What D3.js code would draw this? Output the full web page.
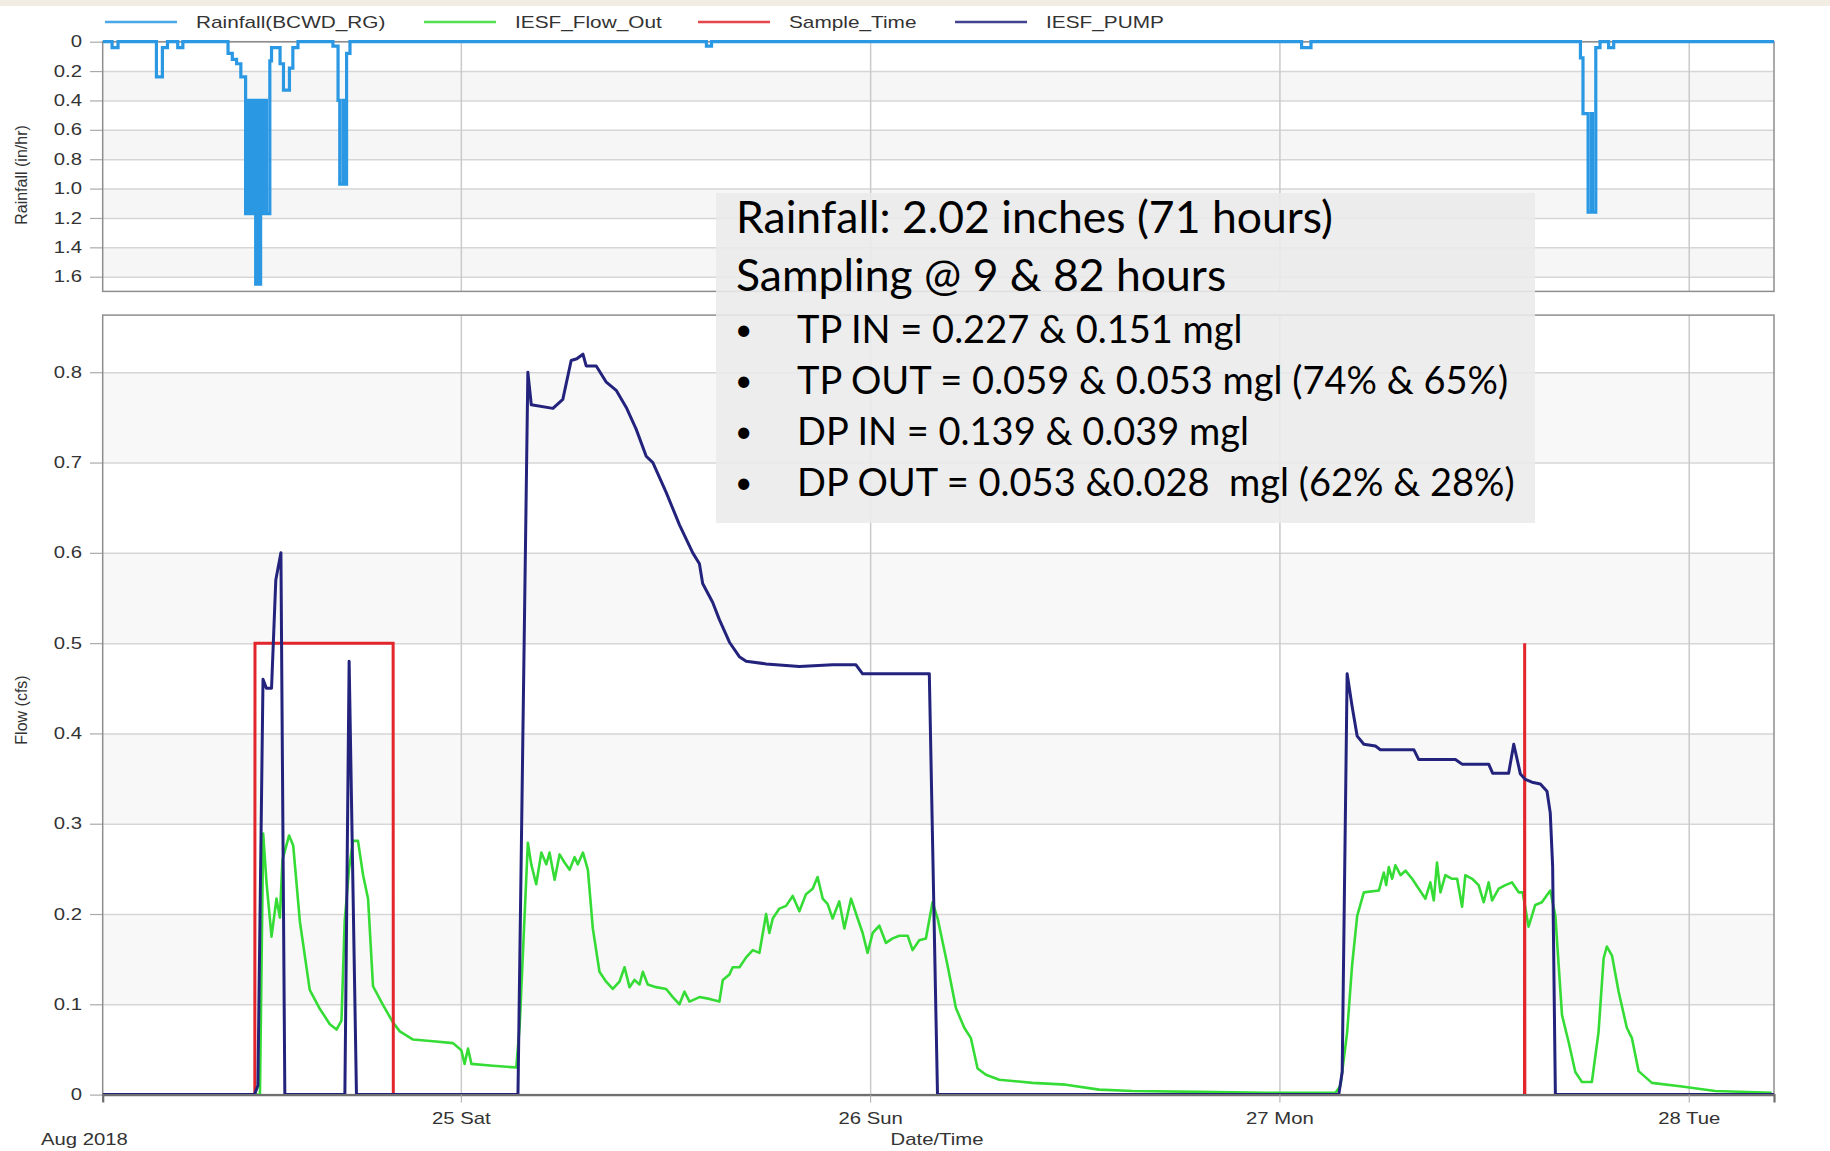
<!DOCTYPE html>
<html>
<head>
<meta charset="utf-8">
<script src="https://cdn.jsdelivr.net/npm/d3@7"></script>
<style>
  html, body { margin: 0; padding: 0; background: #ffffff; }
  svg { display: block; }
  .lbl { font-family: "Liberation Sans", Arial, sans-serif; font-size: 16px; fill: #333; }
  .note { font-family: Lato, "Open Sans", sans-serif; fill: #000; white-space: pre; }
  .head { font-size: 44.5px; }
  .item { font-size: 38px; }
  .dot { font-size: 30px; }
</style>
</head>
<body>
<svg id="chart" width="1830" height="1151"></svg>
<script>
// hours counted from 2018-08-24 00:00
var START_HOUR = 3, END_HOUR = 101;

var legendNames = ["Rainfall(BCWD_RG)", "IESF_Flow_Out", "Sample_Time", "IESF_PUMP"];
var rainTicks = [0, 0.2, 0.4, 0.6, 0.8, 1.0, 1.2, 1.4, 1.6];
var flowTicks = [0, 0.1, 0.2, 0.3, 0.4, 0.5, 0.6, 0.7, 0.8];

// rainfall intensity, in/hr (step values)
var rainData = [
  [3, 0], [3.55, 0.04], [3.9, 0],
  [6.15, 0.24], [6.5, 0.04], [6.8, 0],
  [7.4, 0.04], [7.7, 0],
  [10.35, 0.08], [10.6, 0.12], [10.85, 0.15], [11.1, 0.24],
  [11.38, 1.17], [11.55, 0.4], [11.6, 1.17], [11.75, 0.4], [11.8, 1.17],
  [11.92, 0.4], [11.97, 1.65], [12.1, 0.4], [12.13, 1.65], [12.26, 0.4],
  [12.39, 1.17], [12.55, 0.4], [12.6, 1.17], [12.8, 0.13],
  [12.9, 0.04], [13.4, 0.15], [13.6, 0.33], [13.95, 0.18], [14.15, 0.04], [14.45, 0],
  [16.5, 0.03], [16.8, 0.4], [16.9, 0.97], [17.1, 0.4], [17.15, 0.97], [17.3, 0.08], [17.5, 0],
  [38.4, 0.03], [38.7, 0],
  [73.3, 0.04], [73.85, 0],
  [89.65, 0.11], [89.8, 0.49], [90.1, 1.16], [90.3, 0.49], [90.35, 1.16], [90.55, 0.04], [90.8, 0],
  [91.3, 0.04], [91.6, 0],
  [101, 0]
];

// IESF_Flow_Out, cfs
var flowData = [
  [12.0, 0], [12.22, 0], [12.41, 0.289], [12.61, 0.234], [12.9, 0.175], [13.19, 0.217], [13.39, 0.196],
  [13.54, 0.26], [13.93, 0.287], [14.17, 0.276], [14.56, 0.192], [15.14, 0.116], [15.73, 0.095],
  [16.32, 0.078], [16.71, 0.072], [17.0, 0.082], [17.19, 0.192], [17.45, 0.251], [17.68, 0.281],
  [17.97, 0.281], [18.27, 0.243], [18.56, 0.217], [18.85, 0.12], [19.44, 0.099], [20.02, 0.08],
  [20.42, 0.07], [21.2, 0.061], [22.37, 0.059], [23.54, 0.057], [24.03, 0.049], [24.22, 0.034],
  [24.42, 0.051], [24.62, 0.034], [25.88, 0.032], [27.25, 0.03], [27.45, 0.076], [27.93, 0.279],
  [28.13, 0.255], [28.42, 0.233], [28.72, 0.268], [29.01, 0.255], [29.2, 0.268], [29.5, 0.238],
  [29.79, 0.266], [30.08, 0.257], [30.38, 0.249], [30.67, 0.263], [30.86, 0.255], [31.16, 0.268],
  [31.45, 0.249], [31.74, 0.184], [32.13, 0.136], [32.52, 0.125], [32.91, 0.117], [33.3, 0.125],
  [33.6, 0.141], [33.89, 0.119], [34.18, 0.127], [34.48, 0.122], [34.67, 0.136], [34.96, 0.122],
  [35.45, 0.119], [36.04, 0.117], [36.43, 0.108], [36.82, 0.1], [37.11, 0.114], [37.41, 0.103],
  [37.99, 0.108], [38.58, 0.106], [39.16, 0.103], [39.36, 0.127], [39.75, 0.133], [39.94, 0.141],
  [40.34, 0.141], [40.73, 0.152], [41.12, 0.16], [41.51, 0.157], [41.9, 0.2], [42.09, 0.179],
  [42.29, 0.195], [42.68, 0.206], [43.07, 0.209], [43.46, 0.22], [43.85, 0.203], [44.24, 0.222],
  [44.63, 0.228], [44.92, 0.241], [45.22, 0.217], [45.51, 0.211], [45.8, 0.195], [46.19, 0.214],
  [46.49, 0.184], [46.88, 0.217], [47.27, 0.195], [47.56, 0.179], [47.85, 0.157], [48.15, 0.179],
  [48.54, 0.187], [48.93, 0.168], [49.32, 0.173], [49.71, 0.176], [50.2, 0.176], [50.49, 0.16],
  [50.88, 0.171], [51.27, 0.173], [51.66, 0.213], [51.96, 0.195], [52.54, 0.143], [53.03, 0.096],
  [53.52, 0.074], [53.91, 0.0625], [54.3, 0.029], [54.79, 0.022], [55.57, 0.0165], [57.52, 0.013],
  [59.47, 0.011], [61.43, 0.0055], [63.38, 0.004], [67.28, 0.003], [71.19, 0.002], [75.29, 0.002],
  [75.58, 0.01], [75.97, 0.069], [76.26, 0.143], [76.56, 0.198], [76.95, 0.224], [77.83, 0.226],
  [78.12, 0.246], [78.26, 0.232], [78.41, 0.252], [78.61, 0.239], [78.8, 0.254], [79.1, 0.243],
  [79.39, 0.248], [79.78, 0.239], [80.17, 0.228], [80.56, 0.217], [80.85, 0.235], [81.05, 0.215],
  [81.24, 0.257], [81.44, 0.224], [81.73, 0.243], [82.12, 0.239], [82.42, 0.239], [82.71, 0.208],
  [82.9, 0.243], [83.3, 0.239], [83.68, 0.232], [83.98, 0.213], [84.27, 0.235], [84.47, 0.215],
  [84.86, 0.228], [85.25, 0.232], [85.64, 0.235], [86.03, 0.224], [86.26, 0.224], [86.61, 0.186],
  [87.0, 0.21], [87.39, 0.213], [87.88, 0.226], [88.18, 0.198], [88.57, 0.088], [88.96, 0.058],
  [89.35, 0.025], [89.74, 0.014], [90.32, 0.014], [90.71, 0.069], [91.01, 0.151], [91.2, 0.164],
  [91.5, 0.154], [91.89, 0.114], [92.37, 0.074], [92.67, 0.0625], [93.06, 0.026], [93.84, 0.013],
  [95.6, 0.009], [97.55, 0.004], [100.87, 0.002]
];

// Sample_Time marker (null = no trace)
var sampleData = [
  [11.92, 0], [11.93, 0.5], [20.03, 0.5], [20.04, 0], [50, null],
  [86.37, 0], [86.38, 0.5], [86.39, 0]
];

// IESF_PUMP, cfs
var pumpData = [
  [3, 0], [11.9, 0], [12.1, 0.01], [12.4, 0.46], [12.6, 0.45], [12.9, 0.45], [13.15, 0.57],
  [13.45, 0.6], [13.68, 0],
  [17.2, 0], [17.45, 0.48], [17.88, 0],
  [27.35, 0], [27.93, 0.8], [28.13, 0.764], [29.4, 0.76], [29.98, 0.77], [30.47, 0.813],
  [30.8, 0.815], [31.16, 0.82], [31.35, 0.807], [31.94, 0.807], [32.53, 0.789], [33.11, 0.78],
  [33.7, 0.761], [34.28, 0.737], [34.87, 0.707], [35.26, 0.7], [36.04, 0.667], [36.82, 0.631],
  [37.6, 0.6], [37.99, 0.588], [38.18, 0.566], [38.77, 0.545], [39.16, 0.526], [39.75, 0.501],
  [40.33, 0.485], [40.73, 0.48], [41.9, 0.477], [43.85, 0.474], [45.8, 0.476], [47.17, 0.476],
  [47.56, 0.466], [51.47, 0.466], [51.95, 0],
  [75.48, 0], [75.68, 0.025], [75.97, 0.466], [76.26, 0.43], [76.56, 0.397], [76.95, 0.388],
  [77.63, 0.386], [77.92, 0.382], [79.88, 0.382], [80.17, 0.371], [82.32, 0.371], [82.71, 0.366],
  [84.27, 0.366], [84.5, 0.356], [85.44, 0.356], [85.74, 0.388], [86.13, 0.355], [86.42, 0.349],
  [86.81, 0.346], [87.3, 0.344], [87.69, 0.336], [87.88, 0.312], [88.02, 0.253], [88.18, 0],
  [101, 0]
];

var noteLines = [
  "Rainfall: 2.02 inches (71 hours)",
  "Sampling @ 9 & 82 hours"
];
var noteBullets = [
  "TP IN = 0.227 & 0.151 mgl",
  "TP OUT = 0.059 & 0.053 mgl (74% & 65%)",
  "DP IN = 0.139 & 0.039 mgl",
  "DP OUT = 0.053 &0.028  mgl (62% & 28%)"
];

var RAIN_COLOR = "#2b98e4", FLOW_COLOR = "#36dc36", SAMPLE_COLOR = "#e2262c", PUMP_COLOR = "#23237d";
var SX = 1.27; // horizontal stretch of the chart's own lettering

var base = new Date(2018, 7, 24, 0, 0, 0);
function toDate(h) { return new Date(base.getTime() + h * 3600e3); }

var svg = d3.select("#chart");

// light strip along the top
svg.append("rect").attr("x", 0).attr("y", 0).attr("width", 1830).attr("height", 6).attr("fill", "#f1ede3");

var x = d3.scaleTime()
  .domain([toDate(START_HOUR), toDate(END_HOUR)])
  .range([102.7, 1774]);

var yRain = d3.scaleLinear().domain([0, 1.7]).range([41.7, 291.4]);
var yFlow = d3.scaleLinear().domain([0, 0.8633]).range([1094.6, 315.1]);

var fmt = function (v) { return v === 0 ? "0" : d3.format(".1f")(v); };

function stretch(sel, sx) {
  sel.each(function () {
    var t = d3.select(this);
    var tx = +t.attr("x") || 0, ty = +t.attr("y") || 0;
    t.attr("x", 0).attr("y", 0).attr("transform", "translate(" + tx + "," + ty + ") scale(" + sx + ",1)");
  });
}

function panel(y, ticks, bandFrom, bandColor) {
  var g = svg.append("g");
  var r0 = y.range();
  var top = Math.min(r0[0], r0[1]), bottom = Math.max(r0[0], r0[1]);
  var x0 = x.range()[0], x1 = x.range()[1];
  g.append("rect").attr("x", x0).attr("y", top).attr("width", x1 - x0).attr("height", bottom - top).attr("fill", "#fff");

  // alternating bands between the horizontal grid lines
  var edges = ticks.concat([y.domain()[1]]);
  for (var i = 0; i < edges.length - 1; i++) {
    if ((i + bandFrom) % 2 === 0) {
      var ya = y(edges[i]), yb = y(edges[i + 1]);
      g.append("rect").attr("x", x0).attr("y", Math.min(ya, yb)).attr("width", x1 - x0)
        .attr("height", Math.abs(yb - ya)).attr("fill", bandColor);
    }
  }

  // horizontal grid
  var grid = g.append("g").attr("transform", "translate(" + x0 + ",0)")
    .call(d3.axisLeft(y).tickValues(ticks).tickSize(-(x1 - x0)).tickFormat(""));
  grid.select(".domain").remove();
  grid.selectAll("line").attr("stroke", "#d6d6d6").attr("stroke-width", 1.5);

  // vertical day grid
  var vgrid = g.append("g").attr("transform", "translate(0," + bottom + ")")
    .call(d3.axisBottom(x).ticks(d3.timeDay.every(1)).tickSize(-(bottom - top)).tickFormat(""));
  vgrid.select(".domain").remove();
  vgrid.selectAll("line").attr("stroke", "#cacaca").attr("stroke-width", 1.5);

  // labelled axis with short outside ticks
  var ax = g.append("g").attr("transform", "translate(" + x0 + ",0)")
    .call(d3.axisLeft(y).tickValues(ticks).tickSize(12.7).tickPadding(8).tickFormat(fmt));
  ax.select(".domain").remove();
  ax.selectAll("line").attr("stroke", "#aaa").attr("stroke-width", 1.2);
  ax.selectAll("text").attr("class", "lbl").attr("font-family", null).attr("font-size", null).attr("fill", null);
  stretch(ax.selectAll("text"), SX);

  g.append("rect").attr("x", x0).attr("y", top).attr("width", x1 - x0).attr("height", bottom - top)
    .attr("fill", "none").attr("stroke", "#8e8e8e").attr("stroke-width", 1.5);
  return { top: top, bottom: bottom };
}

var pTop = panel(yRain, rainTicks, 1, "#f6f6f6");
var pBot = panel(yFlow, flowTicks, 1, "#f8f8f8");

// clip paths
var defs = svg.append("defs");
defs.append("clipPath").attr("id", "clipTop").append("rect")
  .attr("x", x.range()[0]).attr("y", pTop.top - 3).attr("width", x.range()[1] - x.range()[0]).attr("height", pTop.bottom - pTop.top + 3);
defs.append("clipPath").attr("id", "clipBot").append("rect")
  .attr("x", x.range()[0]).attr("y", pBot.top).attr("width", x.range()[1] - x.range()[0]).attr("height", pBot.bottom - pBot.top + 2);

// rainfall (inverted axis, step line)
var rainLine = d3.line().curve(d3.curveStepAfter)
  .x(function (d) { return x(toDate(d[0])); })
  .y(function (d) { return yRain(d[1]); });
svg.append("path").datum(rainData).attr("clip-path", "url(#clipTop)")
  .attr("d", rainLine).attr("fill", "none").attr("stroke", RAIN_COLOR)
  .attr("stroke-width", 3.2).attr("stroke-linejoin", "miter");

var flowLine = d3.line()
  .defined(function (d) { return d[1] !== null; })
  .x(function (d) { return x(toDate(d[0])); })
  .y(function (d) { return yFlow(d[1]); });

var gb = svg.append("g").attr("clip-path", "url(#clipBot)");
gb.append("path").datum(flowData).attr("d", flowLine).attr("fill", "none")
  .attr("stroke", FLOW_COLOR).attr("stroke-width", 2.6).attr("stroke-linejoin", "round");
gb.append("path").datum(sampleData).attr("d", flowLine).attr("fill", "none")
  .attr("stroke", SAMPLE_COLOR).attr("stroke-width", 3).attr("stroke-linejoin", "miter");
gb.append("path").datum(pumpData).attr("d", flowLine).attr("fill", "none")
  .attr("stroke", PUMP_COLOR).attr("stroke-width", 3).attr("stroke-linejoin", "round");

// bottom axis
var xa = svg.append("g").attr("transform", "translate(0," + pBot.bottom + ")")
  .call(d3.axisBottom(x).ticks(d3.timeDay.every(1)).tickSize(8).tickPadding(10).tickFormat(d3.timeFormat("%d %a")));
xa.select(".domain").attr("stroke", "#6f6f6f").attr("stroke-width", 2.2);
xa.selectAll("line").attr("stroke", "#aaa");
xa.selectAll("text").attr("class", "lbl").attr("font-family", null).attr("font-size", null).attr("fill", null);
stretch(xa.selectAll("text"), SX);

function label(txt, tx, ty, anchor, sx, rot) {
  svg.append("text").attr("class", "lbl").attr("text-anchor", anchor)
    .attr("transform", "translate(" + tx + "," + ty + ")" + (rot ? " rotate(" + rot + ")" : "") + " scale(" + sx + ",1)")
    .text(txt);
}
label("Aug 2018", 41, 1145, "start", SX);
label("Date/Time", 937, 1145, "middle", SX);
label("Rainfall (in/hr)", 27, 175, "middle", 1, -90);
label("Flow (cfs)", 27, 710, "middle", 1, -90);

// legend
var legendColors = [RAIN_COLOR, FLOW_COLOR, SAMPLE_COLOR, PUMP_COLOR];
var legendX = [105, 424, 698, 955];
legendNames.forEach(function (n, i) {
  svg.append("line").attr("x1", legendX[i]).attr("x2", legendX[i] + 72).attr("y1", 22).attr("y2", 22)
    .attr("stroke", legendColors[i]).attr("stroke-width", 2.6).attr("opacity", 0.85);
  label(n, legendX[i] + 91, 28, "start", 1.3);
});

// annotation box
svg.append("rect").attr("x", 716).attr("y", 193).attr("width", 819).attr("height", 330)
  .attr("fill", "#ebebeb").attr("opacity", 0.88);
var noteY = [233, 291];
noteLines.forEach(function (t, i) {
  svg.append("text").attr("class", "note head").attr("x", 736).attr("y", noteY[i]).text(t);
});
var bulletY = [343, 394, 445, 496];
noteBullets.forEach(function (t, i) {
  svg.append("text").attr("class", "note dot").attr("x", 735).attr("y", bulletY[i] - 3).text("\u2022");
  svg.append("text").attr("class", "note item").attr("x", 797).attr("y", bulletY[i]).text(t);
});
</script>
</body>
</html>
